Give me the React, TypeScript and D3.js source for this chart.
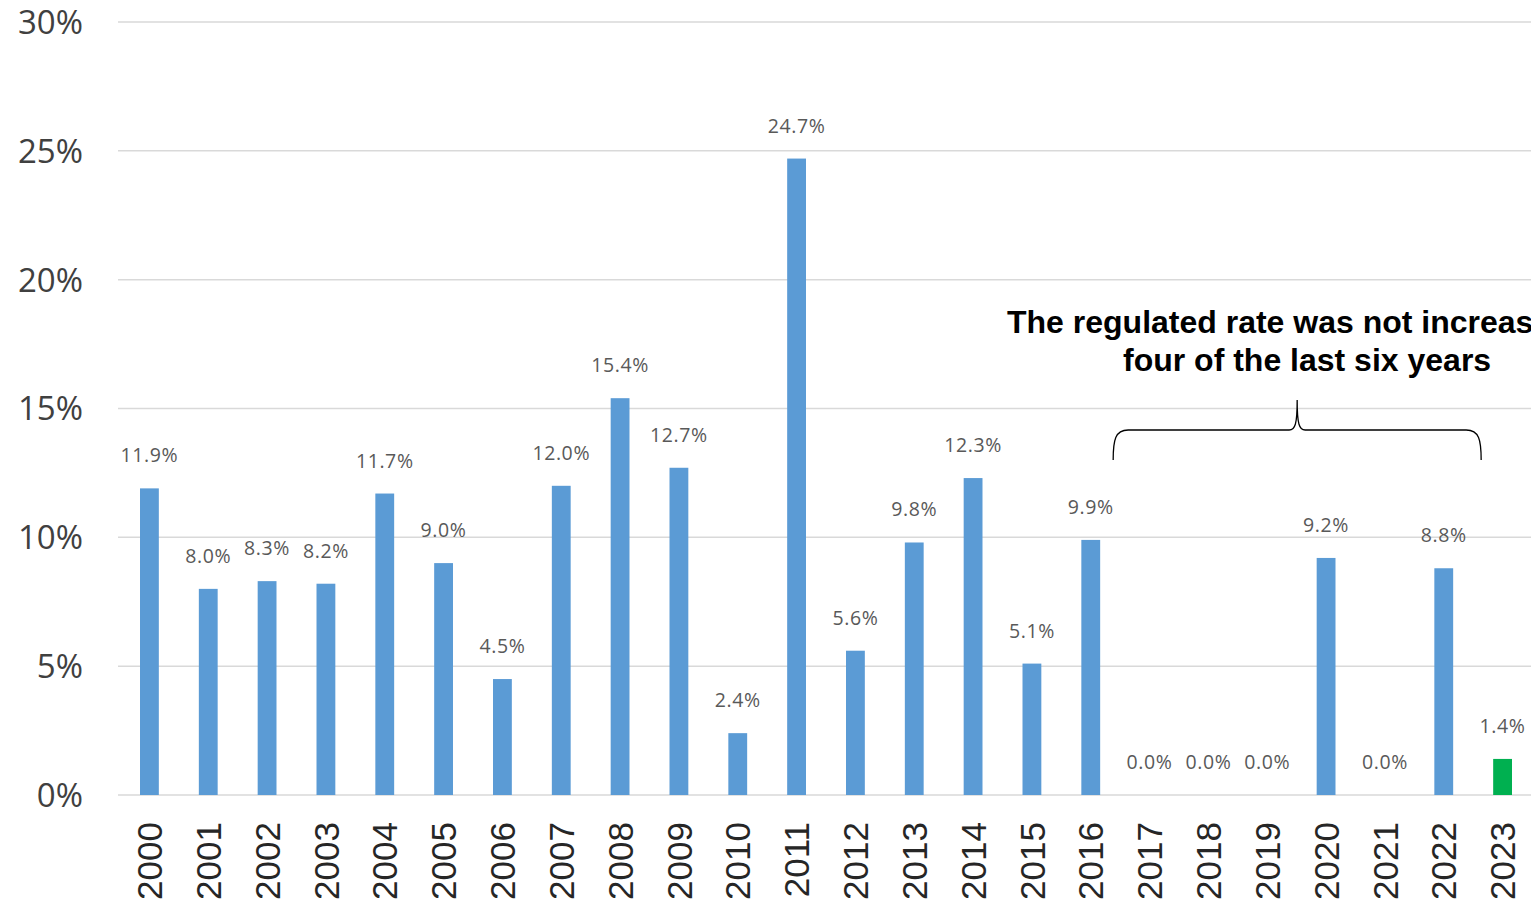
import React from "react";
import * as d3 from "d3";

const years = ["2000","2001","2002","2003","2004","2005","2006","2007","2008","2009","2010","2011","2012","2013","2014","2015","2016","2017","2018","2019","2020","2021","2022","2023"];
const rates = [11.9, 8.0, 8.3, 8.2, 11.7, 9.0, 4.5, 12.0, 15.4, 12.7, 2.4, 24.7, 5.6, 9.8, 12.3, 5.1, 9.9, 0.0, 0.0, 0.0, 9.2, 0.0, 8.8, 1.4];
const highlightYears = ["2023"];
const yTicks = [0, 5, 10, 15, 20, 25, 30];
const annotationLines = ["The regulated rate was not increased in", "four of the last six years"];
const braceFrom = "2017";
const braceTo = "2022";

const W = 1531;
const H = 905;

export default function App() {
  const x = d3.scaleBand<string>().domain(years).range([120, 1532]).paddingInner(0.68).paddingOuter(0.34);
  const y = d3.scaleLinear().domain([0, 30]).range([795, 22]);
  const bw = x.bandwidth();
  const step = x.step();

  const bx0 = (x(braceFrom) as number) - (step - bw) / 2 - 7;
  const bx1 = (x(braceTo) as number) + bw + (step - bw) / 2 + 8;
  const bm = (bx0 + bx1) / 2;
  const by = 430;
  const braceD = `M${bx0},460 C${bx0},440 ${bx0 + 2},${by} ${bx0 + 15},${by} L${bm - 8},${by} C${bm - 2},${by} ${bm},${by - 6} ${bm},${by - 30} C${bm},${by - 6} ${bm + 2},${by} ${bm + 8},${by} L${bx1 - 15},${by} C${bx1 - 2},${by} ${bx1},440 ${bx1},460`;

  return (
    <svg width={W} height={H} style={{ position: "absolute", left: 0, top: 0, background: "#fff" }}>
      {yTicks.map((t) => (
        <g key={t}>
          <line x1={118} x2={W} y1={y(t)} y2={y(t)} stroke="#d9d9d9" strokeWidth={1.5} />
          <text x={83} y={y(t)} dy="0.36em" textAnchor="end" fontFamily="'Open Sans', sans-serif" fontSize={33} fill="#404040">{t}%</text>
        </g>
      ))}
      {years.map((yr, i) => (
        <g key={yr}>
          <rect x={x(yr)} y={y(rates[i])} width={bw} height={y(0) - y(rates[i])} fill={highlightYears.includes(yr) ? "#00b050" : "#5b9bd5"} />
          <text x={(x(yr) as number) + bw / 2} y={y(rates[i]) - 26} textAnchor="middle" fontFamily="'Open Sans', sans-serif" fontSize={19.5} letterSpacing={0.6} fill="#595959">{rates[i].toFixed(1)}%</text>
          <text transform={`translate(${(x(yr) as number) + bw / 2},822) rotate(-90)`} dy="0.36em" textAnchor="end" fontFamily="'Liberation Sans', Arial, sans-serif" fontSize={35} fill="#262626">{yr}</text>
        </g>
      ))}
      <text x={1007} y={333} fontFamily="'Liberation Sans', Arial, sans-serif" fontWeight="bold" fontSize={32} fill="#000">{annotationLines[0]}</text>
      <text x={1123} y={371} fontFamily="'Liberation Sans', Arial, sans-serif" fontWeight="bold" fontSize={32} fill="#000">{annotationLines[1]}</text>
      <path d={braceD} fill="none" stroke="#000" strokeWidth={1.3} />
    </svg>
  );
}
